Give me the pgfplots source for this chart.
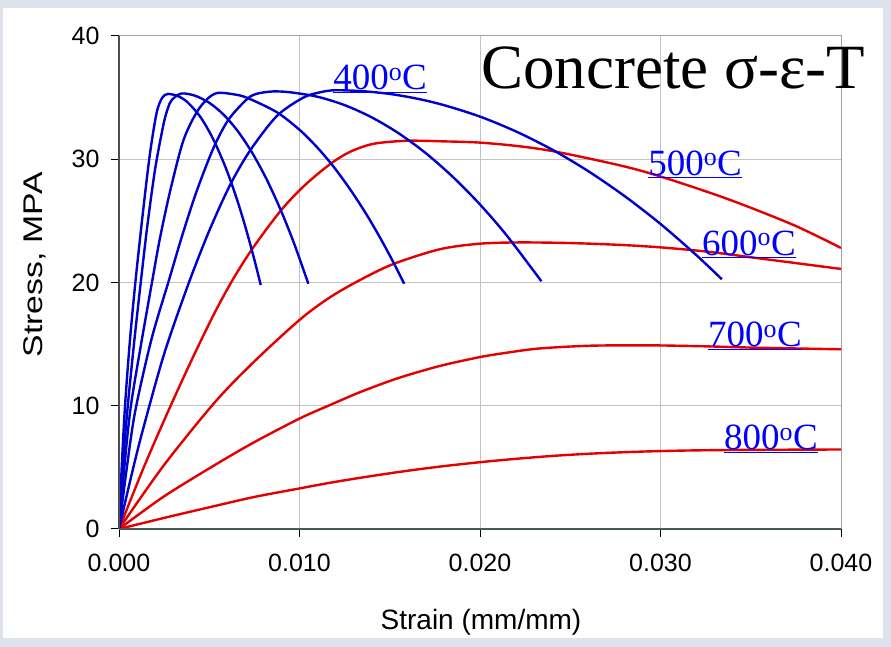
\documentclass[border=0pt]{standalone}
\usepackage{fontspec}
\setmainfont{Liberation Sans}
\newfontfamily\timesf{Liberation Serif}
\usepackage{pgfplots}
\pgfplotsset{compat=1.18}
\definecolor{bgc}{RGB}{221,226,236}
\definecolor{cblue}{RGB}{0,0,205}
\definecolor{cred}{RGB}{228,0,0}
\definecolor{lblue}{RGB}{0,0,255}
\definecolor{gridc}{RGB}{195,195,195}
\definecolor{framec}{RGB}{160,160,160}
\definecolor{xaxc}{RGB}{70,90,90}
\newcommand{\tl}[1]{{\timesf\fontsize{37}{40}\selectfont\color{lblue}\underline{#1\textsuperscript{o}C}}}
\pgfplotsset{cv/.style={line width=2.4pt, smooth, tension=0.5, mark=none}}
\begin{document}
\begin{tikzpicture}
\useasboundingbox (0pt,0pt) rectangle (891pt,647pt);
\fill[bgc] (0pt,0pt) rectangle (891pt,647pt);
\fill[white] (3pt,9pt) rectangle (883pt,639pt);
\begin{axis}[
  at={(119pt,118pt)}, anchor=south west,
  scale only axis, width=722pt, height=493pt,
  xmin=0, xmax=0.04, ymin=0, ymax=40,
  scaled x ticks=false, scaled y ticks=false,
  xtick={0,0.01,0.02,0.03,0.04},
  xticklabels={0.000,0.010,0.020,0.030,0.040},
  ytick={0,10,20,30,40},
  yticklabels={0,10,20,30,40},
  grid=major, major grid style={gridc, line width=1pt},
  axis line style={framec, line width=1pt},
  tick align=outside, xtick pos=bottom, ytick pos=left,
  major tick length=8pt,
  tick style={black, line width=1pt},
  ticklabel style={font=\fontsize{25}{28}\selectfont},
  xticklabel style={anchor=north, yshift=-14pt},
  yticklabel style={anchor=east, xshift=-8pt},
  /pgf/number format/assume math mode=true,
  clip mode=individual,
]
% red curves: 500, 600, 700, 800 C
\addplot[cv, cred] coordinates {(0,0) (0.0014,5.1) (0.00283,9.9) (0.00415,14.1) (0.00532,17.6) (0.00633,20.3) (0.00744,22.85) (0.009,25.9) (0.0103,27.9) (0.01169,29.6) (0.0128,30.6) (0.01409,31.25) (0.01594,31.5) (0.018,31.45) (0.02,31.35) (0.0222,31.05) (0.02425,30.6) (0.02776,29.5) (0.03,28.6) (0.03367,26.8) (0.03736,24.67) (0.04,22.8)};
\addplot[cv, cred] coordinates {(0,0) (0.0025,5.2) (0.00532,10.3) (0.0075,13.6) (0.01003,17.0) (0.01169,18.8) (0.01335,20.2) (0.0152,21.5) (0.01778,22.7) (0.02,23.15) (0.0222,23.25) (0.025,23.2) (0.02776,23.05) (0.03,22.85) (0.0326,22.5) (0.03551,21.95) (0.04,21.1)};
\addplot[cv, cred] coordinates {(0,0) (0.0025,2.65) (0.00532,5.2) (0.0075,7.05) (0.01003,8.98) (0.01169,10.06) (0.01335,11.1) (0.01538,12.2) (0.0177,13.2) (0.02,13.95) (0.0217,14.35) (0.02332,14.65) (0.0261,14.87) (0.02942,14.9) (0.0325,14.82) (0.035,14.72) (0.04,14.58)};
\addplot[cv, cred] coordinates {(0,0) (0.0025,0.9) (0.00532,1.87) (0.0075,2.6) (0.01003,3.3) (0.01169,3.75) (0.01335,4.15) (0.01538,4.6) (0.0177,5.05) (0.02,5.42) (0.0222,5.72) (0.02443,5.97) (0.0268,6.16) (0.02942,6.3) (0.032,6.38) (0.035,6.42) (0.04,6.45)};
% blue curves
\addplot[cv, cblue] coordinates {(0,0) (0.00015,5.0) (0.00033,9.9) (0.0006,15.2) (0.00092,20.2) (0.00135,26.0) (0.00172,30.5) (0.00209,33.8) (0.0024,35.0) (0.00273,35.3) (0.0033,35.1) (0.0038,34.62) (0.0045,33.45) (0.0052,31.69) (0.0059,29.36) (0.0065,26.9) (0.0070,24.52) (0.0075,21.85) (0.00785,19.8)};
\addplot[cv, cblue] coordinates {(0,0) (0.0002,5.0) (0.00048,9.9) (0.00085,15.3) (0.00122,20.2) (0.00157,24.6) (0.002,29.2) (0.00246,32.8) (0.0027,34.1) (0.00292,34.8) (0.00345,35.33) (0.0042,35.16) (0.005,34.58) (0.0058,33.61) (0.0066,32.24) (0.0074,30.47) (0.0082,28.31) (0.009,25.74) (0.0097,23.17) (0.01049,19.9)};
\addplot[cv, cblue] coordinates {(0,0) (0.0003,5.1) (0.00065,9.9) (0.0012,14.8) (0.00185,20.2) (0.00227,23.6) (0.00283,27.4) (0.00356,31.5) (0.0043,33.8) (0.0049,34.9) (0.00545,35.38) (0.0063,35.28) (0.00707,35.0) (0.00874,33.82) (0.01003,32.35) (0.011,30.93) (0.01188,29.41) (0.0128,27.57) (0.01372,25.5) (0.0145,23.54) (0.0152,21.64) (0.0158,19.9)};
\addplot[cv, cblue] coordinates {(0,0) (0.0004,4.6) (0.00089,9.5) (0.0018,15.4) (0.00277,20.2) (0.0035,23.8) (0.0043,27.4) (0.00523,30.9) (0.00606,33.2) (0.00707,34.85) (0.0076,35.3) (0.0085,35.5) (0.0095,35.43) (0.011,35.07) (0.0125,34.39) (0.014,33.4) (0.0155,32.1) (0.017,30.49) (0.0185,28.56) (0.020,26.33) (0.0215,23.78) (0.0234,20.1)};
\addplot[cv, cblue] coordinates {(0,0) (0.0006,3.8) (0.00126,7.7) (0.0025,14.2) (0.00385,19.9) (0.005,24.2) (0.00615,27.9) (0.00726,30.7) (0.00874,33.5) (0.01021,35.0) (0.0112,35.45) (0.012,35.6) (0.0135,35.52) (0.015,35.3) (0.0165,34.92) (0.018,34.39) (0.020,33.46) (0.022,32.25) (0.024,30.78) (0.026,29.03) (0.028,27.02) (0.030,24.75) (0.032,22.2) (0.0334,20.26)};
% axis lines
\draw[xaxc, line width=2.4pt] (axis cs:0,0) -- (axis cs:0.04,0);
\draw[black!70, line width=1.3pt] (axis cs:0,0) -- (axis cs:0,40);
% labels
\node[anchor=base west, inner sep=0pt] at (axis cs:0.01186,35.62) {\tl{400}};
\node[anchor=base west, inner sep=0pt] at (axis cs:0.02931,28.72) {\tl{500}};
\node[anchor=base west, inner sep=0pt] at (axis cs:0.0323,22.23) {\tl{600}};
\node[anchor=base west, inner sep=0pt] at (axis cs:0.03263,14.77) {\tl{700}};
\node[anchor=base west, inner sep=0pt] at (axis cs:0.03352,6.41) {\tl{800}};
\node[anchor=base west, inner sep=0pt, font=\timesf\fontsize{63}{66}\selectfont] at (axis cs:0.02006,35.78) {Concrete σ-ε-T};
\end{axis}
\node[anchor=base, inner sep=0pt, font=\fontsize{28}{30}\selectfont] at (481pt,17pt) {Strain (mm/mm)};
\node[rotate=90, anchor=center, inner sep=0pt, font=\fontsize{27}{30}\selectfont] at (35pt,382pt) {\scalebox{1.25}[1]{Stress, MPA}};
\end{tikzpicture}
\end{document}
